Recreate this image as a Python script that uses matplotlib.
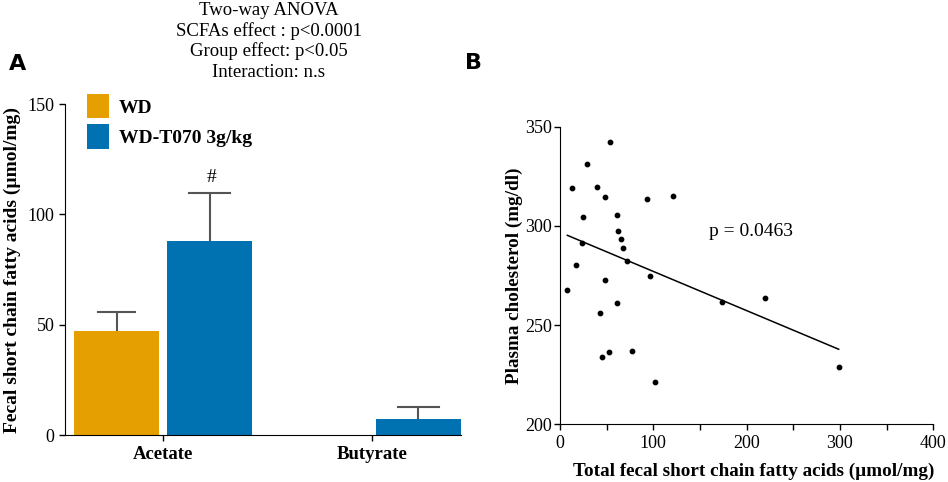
import numpy as np
import matplotlib
matplotlib.use("Agg")
import matplotlib.pyplot as plt
from matplotlib.ticker import MultipleLocator

plt.rcParams['font.family'] = ['Liberation Serif', 'DejaVu Serif']

# panel A data
acids = ["Acetate", "Butyrate"]
groups = ["WD", "WD-T070 3g/kg"]
wd_mean = [47, 0]
wd_err = [8.9, 0]
t070_mean = [87.8, 7.5]
t070_err = [21.8, 5.3]
colors = ["#E69F00", "#0072B2"]
anova_text = ["Two-way ANOVA", "SCFAs effect : p<0.0001",
              "Group effect: p<0.05", "Interaction: n.s"]

# panel B data
scfa_total = [7.9, 13.2, 29.3, 24.3, 23.2, 17.5, 40.0, 48.6, 53.6, 42.5,
              48.6, 45.4, 52.1, 60.7, 62.1, 65.0, 67.9, 71.4, 61.1, 77.1,
              93.6, 96.8, 102.1, 120.7, 173.2, 220.0, 298.6]
cholesterol = [267.9, 319.1, 331.4, 304.7, 291.2, 280.5, 319.6, 314.7, 342.3, 255.9,
               272.9, 234.1, 236.6, 305.7, 297.3, 293.6, 288.7, 282.1, 261.0, 237.1,
               313.7, 274.6, 221.2, 315.1, 261.6, 263.7, 229.1]
fit_slope = -0.1975
fit_intercept = 296.8
p_text = "p = 0.0463"

fig = plt.figure(figsize=(9.48, 4.82), dpi=100)

# ---------- A ----------
axA = fig.add_axes([0.0686, 0.0969, 0.4177, 0.6873])
x = np.arange(len(acids))
w = 0.407
off = 0.2225
err_kw = dict(ecolor="#555555", elinewidth=1.5, capsize=0, capthick=1.5)
axA.bar(x - off, wd_mean, w, color=colors[0], label=groups[0])
axA.bar(x + off, t070_mean, w, color=colors[1], label=groups[1])
for xi, m, e in zip(x - off, wd_mean, wd_err):
    if m > 0:
        axA.errorbar(xi, m, yerr=[[0], [e]], fmt="none", **err_kw)
        axA.plot([xi - 0.09, xi + 0.09], [m + e, m + e], color="#555555", lw=1.5)
for xi, m, e in zip(x + off, t070_mean, t070_err):
    axA.errorbar(xi, m, yerr=[[0], [e]], fmt="none", **err_kw)
    axA.plot([xi - 0.1, xi + 0.1], [m + e, m + e], color="#555555", lw=1.5)
axA.text(x[0] + off + 0.01, t070_mean[0] + t070_err[0] + 3.5, "#",
         ha="center", va="bottom", fontsize=14)

axA.set_xlim(-0.469, 1.426)
axA.set_ylim(0, 150)
axA.set_yticks([0, 50, 100, 150])
axA.set_xticks(x)
axA.set_xticklabels(acids, fontweight="bold", fontsize=13.5)
axA.tick_params(axis="y", labelsize=13, length=4, width=1)
axA.tick_params(axis="x", length=4, width=1, pad=4)
axA.set_ylabel("Fecal short chain fatty acids (µmol/mg)", fontweight="bold",
               fontsize=14, labelpad=5)
for s in ["top", "right"]:
    axA.spines[s].set_visible(False)
axA.legend(loc="upper left", bbox_to_anchor=(0.0556, 1.03), frameon=False,
           prop={"weight": "bold", "size": 14}, handlelength=1.13,
           handleheight=1.55, handletextpad=0.5, labelspacing=0.3,
           borderpad=0, borderaxespad=0)

for i, line in enumerate(anova_text):
    fig.text(269 / 948, 1 - (15 + 20.7 * i) / 482, line, ha="center",
             va="baseline", fontsize=13.5)

fig.text(18 / 948, 1 - 64 / 482, "A", fontfamily="DejaVu Sans",
         fontweight="bold", fontsize=16, ha="center", va="center")
fig.text(473.5 / 948, 1 - 63 / 482, "B", fontfamily="DejaVu Sans",
         fontweight="bold", fontsize=16, ha="center", va="center")

# ---------- B ----------
axB = fig.add_axes([0.5907, 0.1197, 0.3938, 0.6175])
axB.scatter(scfa_total, cholesterol, s=10, color="black", zorder=3)
xs = np.array([min(scfa_total), max(scfa_total)])
axB.plot(xs, fit_intercept + fit_slope * xs, color="black", lw=1.1)
axB.text(160, 297, p_text, fontsize=14, ha="left", va="center")
axB.set_xlim(0, 400)
axB.set_ylim(200, 350)
axB.set_yticks([200, 250, 300, 350])
axB.xaxis.set_major_locator(MultipleLocator(100))
axB.xaxis.set_minor_locator(MultipleLocator(50))
axB.tick_params(axis="both", which="both", labelsize=13, length=4, width=1)
axB.tick_params(axis="y", pad=2)
axB.set_xlabel("Total fecal short chain fatty acids (µmol/mg)",
               fontweight="bold", fontsize=13.8, labelpad=8)
axB.xaxis.label.set_x(0.52)
axB.set_ylabel("Plasma cholesterol (mg/dl)", fontweight="bold",
               fontsize=13.8, labelpad=1)
for s in ["top", "right"]:
    axB.spines[s].set_visible(False)

fig.savefig("out.png", dpi=100)
